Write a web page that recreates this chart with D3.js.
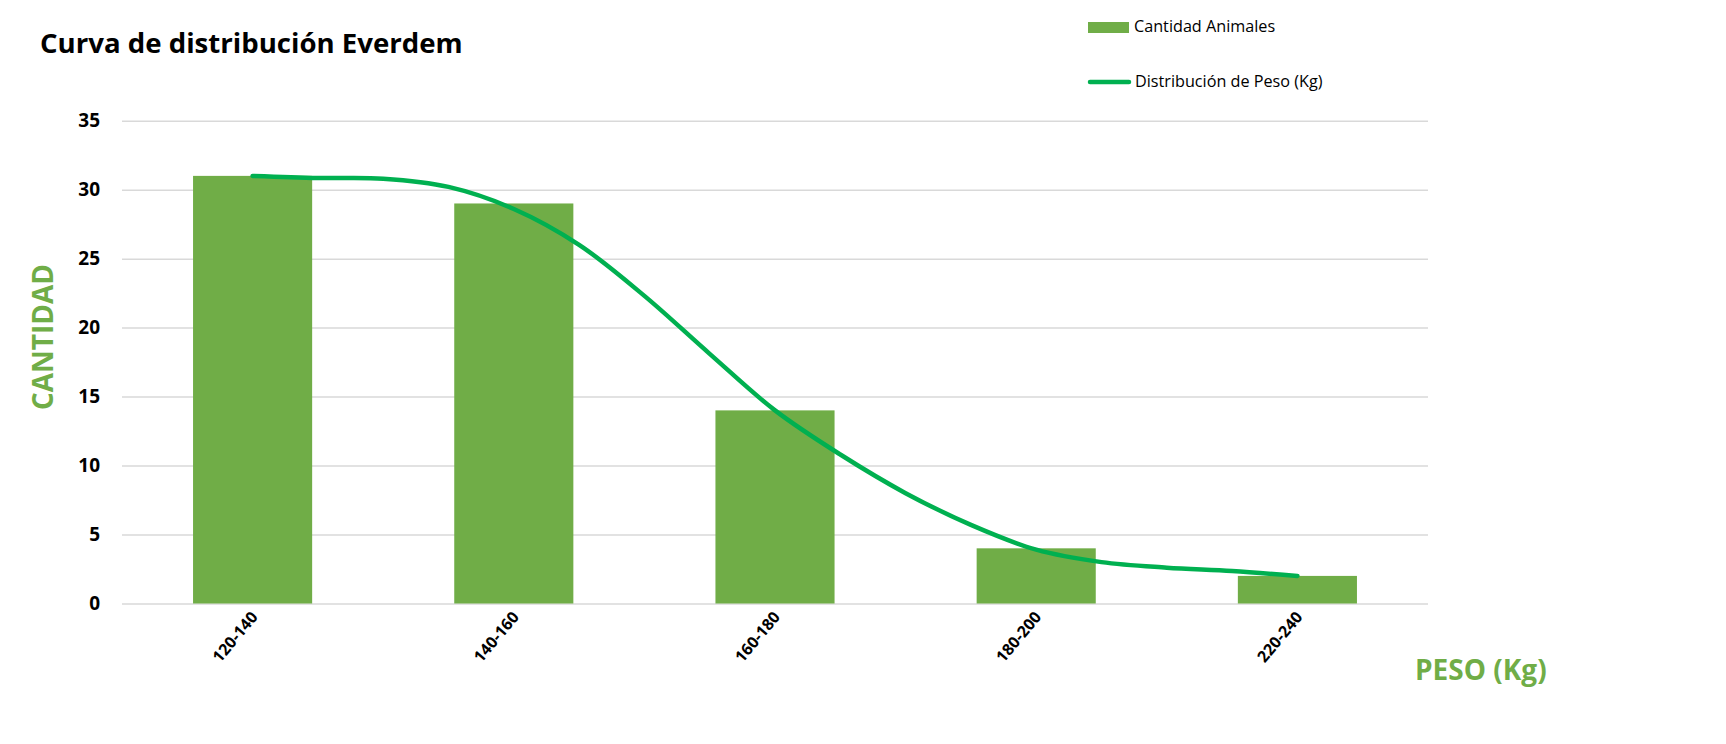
<!DOCTYPE html>
<html>
<head>
<meta charset="utf-8">
<script src="https://cdn.jsdelivr.net/npm/d3@7"></script>
<style>
  body { margin: 0; background: #fff; }
  text { font-family: "Open Sans", "Noto Sans", sans-serif; }
</style>
</head>
<body>
<svg width="1726" height="744"></svg>
<script>
// data
const categories = ["120-140", "140-160", "160-180", "180-200", "220-240"];
const animals = [31, 29, 14, 4, 2];
// weight curve, sampled at quarter steps between category centres
const curveIndex = [0, 0.25, 0.5, 0.75, 1, 1.25, 1.5, 1.75, 2, 2.25, 2.5, 2.75, 3, 3.25, 3.5, 3.75, 4];
const curveValues = [31, 30.85, 30.8, 30.2, 28.6, 26.0, 22.3, 18.1, 14.0, 10.8, 8.0, 5.7, 3.9, 3.0, 2.6, 2.35, 2.0];
const yTicks = [0, 5, 10, 15, 20, 25, 30, 35];

const barColor = "#70AD47";
const lineColor = "#00B050";

const svg = d3.select("svg");
const plotLeft = 122, plotRight = 1428, plotTop = 120.7, plotBottom = 603.5;

const x = d3.scaleBand()
   .domain(categories)
   .range([plotLeft, plotRight])
   .paddingInner(0.544)
   .paddingOuter(0.272);

const y = d3.scaleLinear()
   .domain([0, 35])
   .range([plotBottom, plotTop]);

// position along the category centres for the curve
const xi = d3.scaleLinear()
   .domain([0, categories.length - 1])
   .range([x(categories[0]) + x.bandwidth() / 2, x(categories[categories.length - 1]) + x.bandwidth() / 2]);

// Title
svg.append("text")
   .attr("x", 40)
   .attr("y", 53)
   .attr("font-size", "27.6px")
   .attr("font-weight", "bold")
   .attr("fill", "#000")
   .text("Curva de distribución Everdem");

// Gridlines and y tick labels
const yAxis = svg.append("g")
   .attr("transform", `translate(${plotLeft},0)`)
   .call(d3.axisLeft(y).tickValues(yTicks).tickSize(-(plotRight - plotLeft)).tickPadding(22));
yAxis.select(".domain").remove();
yAxis.selectAll(".tick line")
   .attr("stroke", "#D9D9D9")
   .attr("stroke-width", 1.5);
yAxis.selectAll(".tick text")
   .attr("font-size", "19px")
   .attr("font-weight", "bold")
   .attr("fill", "#000");

// Bars
svg.selectAll("rect.bar")
   .data(animals)
   .join("rect")
   .attr("class", "bar")
   .attr("x", (d, i) => x(categories[i]))
   .attr("y", d => y(d))
   .attr("width", x.bandwidth())
   .attr("height", d => y(0) - y(d))
   .attr("fill", barColor);

// X axis labels (rotated)
const xAxis = svg.append("g")
   .attr("transform", `translate(0,${plotBottom})`)
   .call(d3.axisBottom(x).tickSize(0).tickPadding(0));
xAxis.select(".domain").remove();
xAxis.selectAll(".tick text")
   .attr("font-size", "16px")
   .attr("font-weight", "bold")
   .attr("fill", "#000")
   .attr("text-anchor", "end")
   .attr("dy", null)
   .attr("y", 0)
   .attr("transform", "translate(6,14) rotate(-50)");

// Distribution curve
const line = d3.line()
   .x((d, i) => xi(curveIndex[i]))
   .y(d => y(d))
   .curve(d3.curveCatmullRom.alpha(0.5));

svg.append("path")
   .datum(curveValues)
   .attr("d", line)
   .attr("fill", "none")
   .attr("stroke", lineColor)
   .attr("stroke-width", 4.5)
   .attr("stroke-linecap", "round");

// Axis titles
svg.append("text")
   .attr("transform", "translate(53,337) rotate(-90)")
   .attr("text-anchor", "middle")
   .attr("font-size", "28px")
   .attr("font-weight", "bold")
   .attr("fill", barColor)
   .text("CANTIDAD");

svg.append("text")
   .attr("x", 1415)
   .attr("y", 680)
   .attr("font-size", "28px")
   .attr("font-weight", "bold")
   .attr("fill", barColor)
   .text("PESO (Kg)");

// Legend
const legend = svg.append("g");
legend.append("rect")
   .attr("x", 1088)
   .attr("y", 22)
   .attr("width", 41)
   .attr("height", 11)
   .attr("fill", barColor);
legend.append("text")
   .attr("x", 1134)
   .attr("y", 32)
   .attr("font-size", "16.2px")
   .attr("fill", "#000")
   .text("Cantidad Animales");

legend.append("line")
   .attr("x1", 1090)
   .attr("x2", 1129)
   .attr("y1", 82)
   .attr("y2", 82)
   .attr("stroke", lineColor)
   .attr("stroke-width", 4.5)
   .attr("stroke-linecap", "round");
legend.append("text")
   .attr("x", 1135)
   .attr("y", 87)
   .attr("font-size", "16.2px")
   .attr("fill", "#000")
   .text("Distribución de Peso (Kg)");
</script>
</body>
</html>
